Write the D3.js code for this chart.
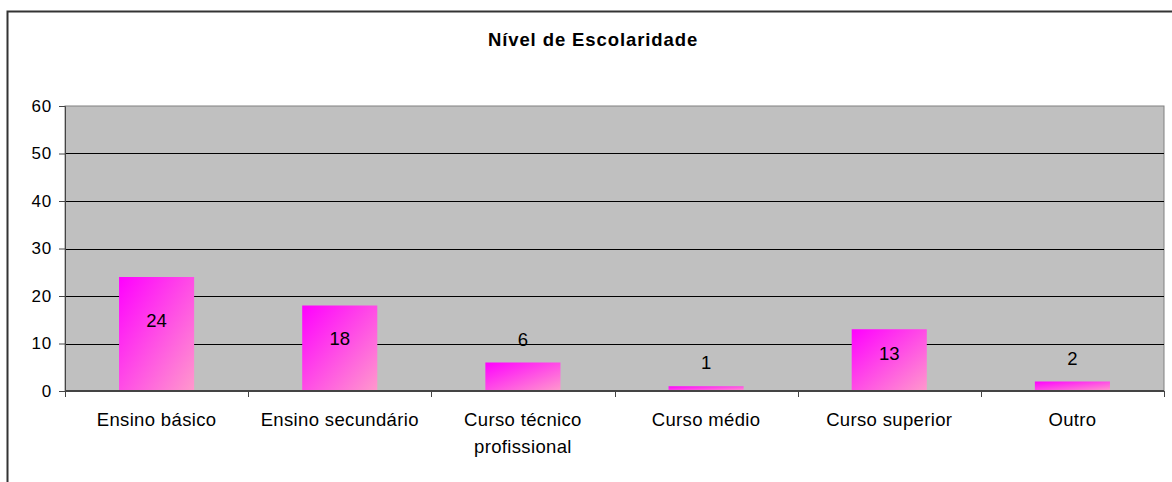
<!DOCTYPE html>
<html>
<head>
<meta charset="utf-8">
<script src="https://cdn.jsdelivr.net/npm/d3@7"></script>
<style>
  body { margin: 0; background: #fff; }
  text { font-family: Arial, "Liberation Sans", sans-serif; fill: #000; }
</style>
</head>
<body>
<div id="chart"></div>
<script>
const categories = ["Ensino básico", "Ensino secundário", "Curso técnico profissional", "Curso médio", "Curso superior", "Outro"];
const categoryLines = [["Ensino básico"], ["Ensino secundário"], ["Curso técnico", "profissional"], ["Curso médio"], ["Curso superior"], ["Outro"]];
const values = [24, 18, 6, 1, 13, 2];
const yTicks = [0, 10, 20, 30, 40, 50, 60];
const title = "Nível de Escolaridade";

const W = 1172, H = 482;
const margin = { top: 106, right: 8, bottom: 91, left: 65 };
const width = W - margin.left - margin.right;
const height = H - margin.top - margin.bottom;

const svg = d3.select("#chart").append("svg")
    .attr("width", W)
    .attr("height", H);

// gradient for bars
const grad = svg.append("defs").append("linearGradient")
    .attr("id", "barGrad")
    .attr("x1", "0%").attr("y1", "0%")
    .attr("x2", "100%").attr("y2", "100%");
grad.append("stop").attr("offset", "0%").attr("stop-color", "#ff00ff");
grad.append("stop").attr("offset", "100%").attr("stop-color", "#ff99cc");

// outer chart border
svg.append("path")
    .attr("d", `M7.5,${H} V11.5 H${W}`)
    .attr("fill", "none")
    .attr("stroke", "#333")
    .attr("stroke-width", 2);

svg.append("text")
    .attr("x", 593)
    .attr("y", 46)
    .attr("text-anchor", "middle")
    .style("font-size", "18.5px")
    .style("font-weight", "bold")
    .style("letter-spacing", "0.9px")
    .text(title);

const g = svg.append("g").attr("transform", `translate(${margin.left},${margin.top})`);

const x = d3.scaleBand().domain(categories).range([0, width]).paddingInner(0.59).paddingOuter(0.295);
const band = d3.scaleBand().domain(categories).range([0, width]);
const y = d3.scaleLinear().domain([0, 60]).range([height, 0]);

// plot area
g.append("rect")
    .attr("width", width).attr("height", height)
    .attr("fill", "#c0c0c0")
    .attr("stroke", "#808080")
    .attr("stroke-width", 1);

// gridlines
g.selectAll(".grid").data(yTicks.filter(d => d > 0 && d < 60)).join("line")
    .attr("x1", 0).attr("x2", width)
    .attr("y1", d => Math.round(y(d)) + 0.5).attr("y2", d => Math.round(y(d)) + 0.5)
    .attr("stroke", "#000").attr("stroke-width", 1);

// bars
g.selectAll(".bar").data(values).join("rect")
    .attr("x", (d, i) => x(categories[i]))
    .attr("y", d => y(d))
    .attr("width", x.bandwidth())
    .attr("height", d => height - y(d))
    .attr("fill", "url(#barGrad)");

// y axis
const yAxis = g.append("g")
    .call(d3.axisLeft(y).tickValues(yTicks).tickSize(6).tickPadding(7));
yAxis.select(".domain").attr("stroke", "#444");
yAxis.selectAll(".tick line").attr("stroke", "#444");
yAxis.selectAll("text").style("font-size", "17px").style("letter-spacing", "0.8px").attr("fill", "#000");

// x axis with ticks at category boundaries
const xg = g.append("g").attr("transform", `translate(0,${height})`);
xg.append("line").attr("x1", 0).attr("x2", width).attr("stroke", "#444").attr("stroke-width", 2);
const bounds = categories.map(c => band(c)).concat([width]);
xg.selectAll(".xt").data(bounds).join("line")
    .attr("x1", d => Math.round(d) + 0.5).attr("x2", d => Math.round(d) + 0.5)
    .attr("y1", 0).attr("y2", 6)
    .attr("stroke", "#444");
xg.selectAll(".xl").data(categoryLines).join("text")
    .attr("x", (d, i) => band(categories[i]) + band.bandwidth() / 2)
    .attr("y", 35)
    .attr("text-anchor", "middle")
    .style("font-size", "18.5px")
    .style("letter-spacing", "0.35px")
    .selectAll("tspan").data(d => d).join("tspan")
    .attr("x", function () { return d3.select(this.parentNode).attr("x"); })
    .attr("dy", (d, i) => i === 0 ? 0 : 27)
    .text(d => d);

// data labels
g.selectAll(".lbl").data(values).join("text")
    .attr("x", (d, i) => x(categories[i]) + x.bandwidth() / 2)
    .attr("y", d => (d >= 10 ? y(d * 0.62) : y(d) - 24) + 7)
    .attr("text-anchor", "middle")
    .style("font-size", "18.5px")
    .text(d => d);
</script>
</body>
</html>
